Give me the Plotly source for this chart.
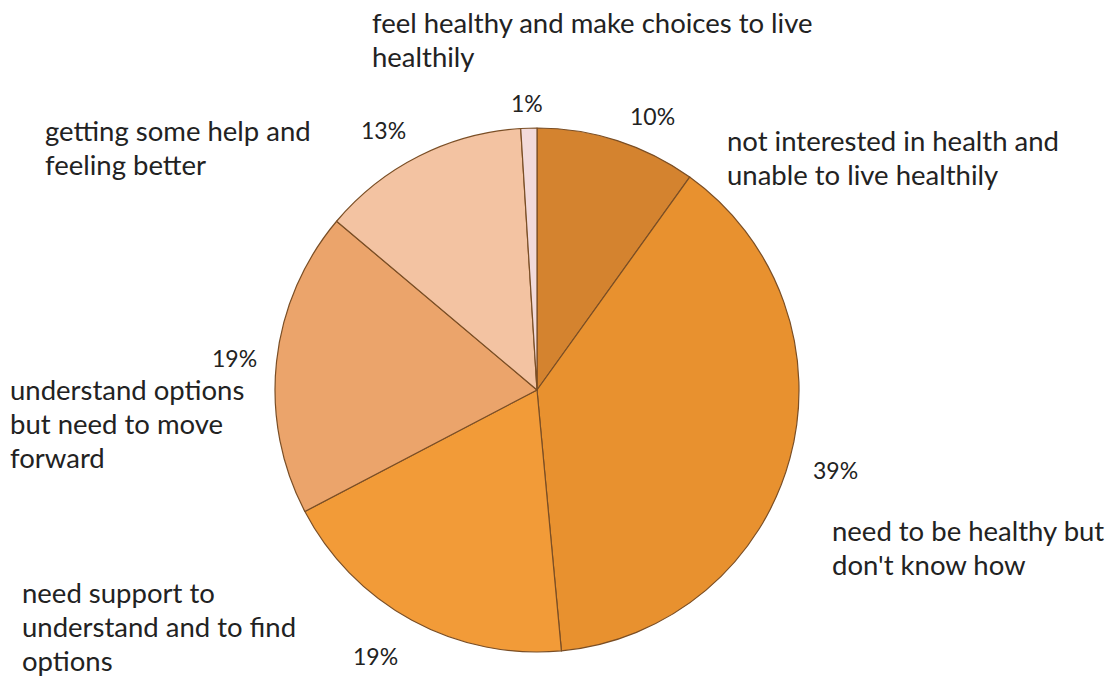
import plotly.graph_objects as go

# Survey segments, clockwise from 12 o'clock
segments = [
    "not interested in health and unable to live healthily",
    "need to be healthy but don't know how",
    "need support to understand and to find options",
    "understand options but need to move forward",
    "getting some help and feeling better",
    "feel healthy and make choices to live healthily",
]
shares = [10, 39, 19, 19, 13, 1]
share_labels = ["10%", "39%", "19%", "19%", "13%", "1%"]
colors = ["#D4832F", "#E8912F", "#F29B38", "#EBA46B", "#F3C3A2", "#F2DADA"]

# Wrapped category text for each segment
wrapped = [
    ["not interested in health and", "unable to live healthily"],
    ["need to be healthy but", "don't know how"],
    ["need support to", "understand and to find", "options"],
    ["understand options", "but need to move", "forward"],
    ["getting some help and", "feeling better"],
    ["feel healthy and make choices to live", "healthily"],
]

W, H = 1112, 677
cx, cy, r = 537, 390, 262

fig = go.Figure(
    go.Pie(
        labels=segments,
        values=shares,
        sort=False,
        direction="clockwise",
        rotation=0,
        textinfo="none",
        hoverinfo="label+percent",
        marker=dict(colors=colors, line=dict(color="#7A4E25", width=1.2)),
        domain=dict(
            x=[(cx - r) / W, (cx + r) / W],
            y=[(H - cy - r) / H, (H - cy + r) / H],
        ),
        showlegend=False,
    )
)

font = dict(family="Lato, Carlito, sans-serif", size=27.5, color="#222222")
line_h = 34

# Top-left corner of each wrapped label block (pixels) and percent label centers
label_anchor = [(725, 140), (830, 530), (20, 592), (8, 389), (43, 130), (370, 22)]
pct_center = [(652, 116), (835, 470), (375, 656), (234, 358), (383, 130), (527, 103)]

annotations = []
for lines, (lx, ly) in zip(wrapped, label_anchor):
    for i, t in enumerate(lines):
        annotations.append(dict(
            text=t, x=lx / W, y=1 - (ly + i * line_h) / H,
            xref="paper", yref="paper", xanchor="left", yanchor="middle",
            showarrow=False, font=font,
        ))
for t, (px, py) in zip(share_labels, pct_center):
    annotations.append(dict(
        text=t, x=px / W, y=1 - py / H,
        xref="paper", yref="paper", xanchor="center", yanchor="middle",
        showarrow=False, font=dict(family=font["family"], size=23, color="#222222"),
    ))

fig.update_layout(
    width=W, height=H,
    margin=dict(l=0, r=0, t=0, b=0),
    paper_bgcolor="white", plot_bgcolor="white",
    annotations=annotations,
)

fig.write_html("out.html")
